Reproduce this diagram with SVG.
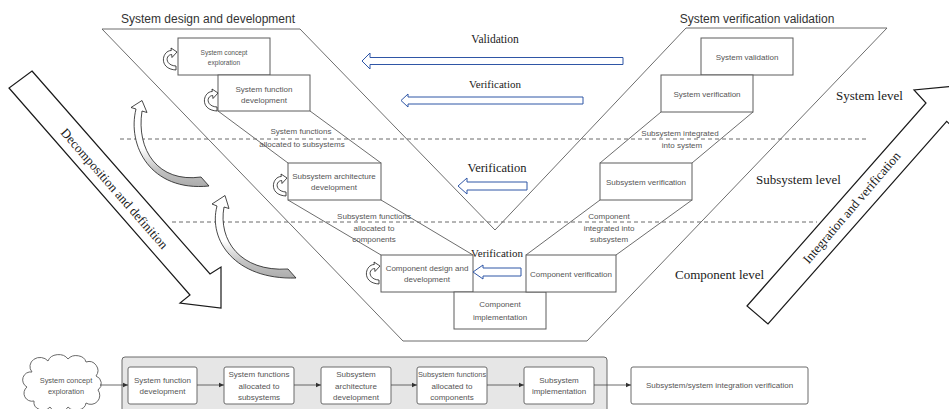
<svg xmlns="http://www.w3.org/2000/svg" width="949" height="409" viewBox="0 0 949 409">
<style>
.frame{fill:none;stroke:#5c5c5c;stroke-width:0.9}
.box{fill:#fff;stroke:#5c5c5c;stroke-width:1}
.lbl{font-family:"Liberation Sans",Arial,sans-serif;font-size:8px;fill:#555;text-anchor:middle}
.sm{font-size:6.6px}
.md{font-size:7.4px}
.hdr{font-family:"Liberation Sans",Arial,sans-serif;font-size:12px;fill:#333;text-anchor:middle}
.serif{font-family:"Liberation Serif","Times New Roman",serif;fill:#1a1a1a}
.dash{fill:none;stroke:#6a6a6a;stroke-width:1;stroke-dasharray:4 3}
.blue{fill:#fff;stroke:#2f56a6;stroke-width:1}
.block{fill:#fff;stroke:#1a1a1a;stroke-width:1.2}
.turn{fill:#fff;stroke:#1a1a1a;stroke-width:0.8}
.swing{fill:url(#swingFill);stroke:#1a1a1a;stroke-width:0.8}
.fbox{fill:#fff;stroke:#6a6a6a;stroke-width:1}
.flow{fill:none;stroke:#444;stroke-width:0.8;marker-end:url(#tip)}
</style>
<defs>
<linearGradient id="swingFill" x1="0" y1="0" x2="0" y2="1">
<stop offset="0" stop-color="#fff"/><stop offset="0.55" stop-color="#fff"/><stop offset="0.8" stop-color="#c4c4c4"/><stop offset="1" stop-color="#acacac"/>
</linearGradient>
<marker id="tip" markerWidth="6" markerHeight="6" refX="5" refY="3" orient="auto" markerUnits="userSpaceOnUse">
<path d="M0,0.8 L5,3 L0,5.2 Z" fill="#333"/>
</marker>
<!-- small looping arrow placed beside each design box -->
<path id="turnArrow" class="turn" d="M12.3,2.5 C3,2.5 -1,21 17,22 L17,18 C6,17.5 6,7 12.7,6.5 L13,9.5 L18,4 L12,0 Z"/>
</defs>

<!-- V frame -->
<g id="vframe">
<path class="frame" d="M102,29 L300,29 L495,230 L686,28 L887,28 L587,341 L403,341 Z"/>
<path class="frame" d="M218,111 L288,163 M310,111 L381,163 M288,200 L381,255 M381,200 L473,255 M661,112 L600,163 M753,112 L692,163 M600,200 L526,255 M692,200 L616,255"/>
<path class="dash" d="M120,139 H868 M172,222 H817"/>
</g>

<text class="hdr" x="208" y="23">System design and development</text>
<text class="hdr" x="757" y="23">System verification validation</text>

<text class="serif" x="836" y="100" font-size="13">System level</text>
<text class="serif" x="756" y="184" font-size="13">Subsystem level</text>
<text class="serif" x="675" y="279" font-size="13">Component level</text>

<!-- design side -->
<g id="n-concept">
<rect class="box" x="178" y="38" width="92" height="37"/>
<text class="lbl sm" x="224" y="54.5">System concept</text>
<text class="lbl sm" x="224" y="65">exploration</text>
</g>
<g id="n-function">
<rect class="box" x="218" y="75" width="92" height="36"/>
<text class="lbl" x="264" y="92">System function</text>
<text class="lbl" x="264" y="103">development</text>
</g>
<g id="n-subarch">
<rect class="box" x="288" y="163" width="93" height="37"/>
<text class="lbl" x="334" y="179">Subsystem architecture</text>
<text class="lbl" x="334" y="190">development</text>
</g>
<g id="n-compdesign">
<rect class="box" x="381" y="255" width="92" height="37"/>
<text class="lbl" x="427" y="271">Component design and</text>
<text class="lbl" x="427" y="282">development</text>
</g>
<g id="n-compimpl">
<rect class="box" x="454" y="292" width="92" height="37"/>
<text class="lbl" x="500" y="307">Component</text>
<text class="lbl" x="500" y="320">implementation</text>
</g>

<!-- verification side -->
<g id="n-sysval">
<rect class="box" x="701" y="38" width="92" height="37"/>
<text class="lbl" x="747" y="60">System validation</text>
</g>
<g id="n-sysver">
<rect class="box" x="661" y="75" width="92" height="37"/>
<text class="lbl" x="707" y="97">System verification</text>
</g>
<g id="n-subver">
<rect class="box" x="600" y="163" width="92" height="37"/>
<text class="lbl" x="646" y="185">Subsystem verification</text>
</g>
<g id="n-compver">
<rect class="box" x="526" y="255" width="90" height="37"/>
<text class="lbl" x="571" y="277">Component verification</text>
</g>

<!-- step labels -->
<g id="step-labels">
<text class="lbl" x="301" y="134">System functions</text>
<text class="lbl" x="302" y="146.5">allocated to subsystems</text>
<text class="lbl" x="374" y="219">Subsystem functions</text>
<text class="lbl" x="374" y="231">allocated to</text>
<text class="lbl" x="374" y="242">components</text>
<text class="lbl" x="680" y="136">Subsystem integrated</text>
<text class="lbl" x="682" y="148">into system</text>
<text class="lbl" x="609" y="219">Component</text>
<text class="lbl" x="609" y="231">integrated into</text>
<text class="lbl" x="609" y="242">subsystem</text>
</g>

<!-- validation / verification arrows -->
<g id="feedback">
<path class="blue" d="M362,61 L370,53 L370,57.5 L623,57.5 L623,64.5 L370,64.5 L370,69 Z"/>
<path class="blue" d="M401,100.5 L408,94 L408,97 L583,97 L583,104 L408,104 L408,107 Z"/>
<path class="blue" d="M458,186 L467,178 L467,182 L527,182 L527,190 L467,190 L467,194 Z"/>
<path class="blue" d="M473,272 L483,265 L483,268 L521,268 L521,276 L483,276 L483,279 Z"/>
<text class="serif" x="495" y="43" font-size="11.5" text-anchor="middle">Validation</text>
<text class="serif" x="495" y="88" font-size="11" text-anchor="middle">Verification</text>
<text class="serif" x="497" y="172" font-size="12.5" text-anchor="middle">Verification</text>
<text class="serif" x="497" y="257" font-size="11" text-anchor="middle">Verification</text>
</g>

<!-- iteration loops -->
<g id="loops">
<use href="#turnArrow" x="159" y="48"/>
<use href="#turnArrow" x="200" y="89"/>
<use href="#turnArrow" x="269" y="174"/>
<use href="#turnArrow" x="362" y="262"/>
<path class="swing" d="M136,109 C127,145 150,192 209,186 L201,177 C158,183 136,150 142,111 L147,112.5 L142,100.5 L131,107.5 Z"/>
<path class="swing" d="M217,206 C208,240 235,280 296,278 L288,269 C240,272 218,240 224,207 L229,208.5 L225,195.5 L212,204 Z"/>
</g>

<!-- large direction arrows -->
<g id="decomposition">
<path class="block" d="M32,71 L210,274 L221,267 L221,308 L180,303 L190,295 L9,88 Z"/>
<text class="serif" font-size="13" text-anchor="middle" transform="translate(114.5,188.5) rotate(48.85)" y="4.5">Decomposition and definition</text>
</g>
<g id="integration">
<path class="block" d="M747,306 L926,103 L914,90 L955,86 L959,133 L946.7,121.3 L768,324 Z"/>
<text class="serif" font-size="13" text-anchor="middle" transform="translate(851.5,207.5) rotate(-49.5)" y="4.5">Integration and verification</text>
</g>

<!-- process flow -->
<g id="f-cloud">
<path class="fbox" d="M32,372 a10,9 0 0 1 16,-11 a11,9 0 0 1 20,-2 a10,8 0 0 1 18,3 a9,9 0 0 1 10,14 a8,8 0 0 1 2,14 a9,9 0 0 1 -12,13 a10,8 0 0 1 -18,4 a10,8 0 0 1 -18,0 a9,8 0 0 1 -16,-6 a8,8 0 0 1 -7,-14 a8,8 0 0 1 5,-15 Z"/>
<text class="lbl md" x="66" y="382.5">System concept</text>
<text class="lbl md" x="66" y="393.5">exploration</text>
</g>
<g id="f-group">
<rect x="122" y="357" width="485" height="62" rx="3" fill="#e6e6e6" stroke="#6a6a6a" stroke-width="1"/>
</g>
<g id="f-function">
<rect class="fbox" x="128" y="367" width="69" height="37" rx="2"/>
<text class="lbl" x="162.5" y="383">System function</text>
<text class="lbl" x="162.5" y="394">development</text>
</g>
<g id="f-alloc-sub">
<rect class="fbox" x="224" y="367" width="70" height="37" rx="2"/>
<text class="lbl" x="259" y="377">System functions</text>
<text class="lbl" x="259" y="388.5">allocated to</text>
<text class="lbl" x="259" y="400">subsystems</text>
</g>
<g id="f-subarch">
<rect class="fbox" x="321" y="367" width="70" height="37" rx="2"/>
<text class="lbl" x="356" y="377">Subsystem</text>
<text class="lbl" x="356" y="388.5">architecture</text>
<text class="lbl" x="356" y="400">development</text>
</g>
<g id="f-alloc-comp">
<rect class="fbox" x="417" y="367" width="70" height="37" rx="2"/>
<text class="lbl md" x="452" y="377">Subsystem functions</text>
<text class="lbl" x="452" y="388.5">allocated to</text>
<text class="lbl" x="452" y="400">components</text>
</g>
<g id="f-subimpl">
<rect class="fbox" x="524" y="367" width="70" height="37" rx="2"/>
<text class="lbl" x="559" y="383">Subsystem</text>
<text class="lbl" x="559" y="394">implementation</text>
</g>
<g id="f-integration">
<rect class="fbox" x="631" y="367" width="177" height="37" rx="2"/>
<text class="lbl" x="719.5" y="388">Subsystem/system integration verification</text>
</g>
<g id="connectors">
<path class="flow" d="M100,385 H128"/>
<path class="flow" d="M197,385 H224"/>
<path class="flow" d="M294,385 H321"/>
<path class="flow" d="M391,385 H417"/>
<path class="flow" d="M487,385 H524"/>
<path class="flow" d="M594,385 H631"/>
</g>
</svg>
